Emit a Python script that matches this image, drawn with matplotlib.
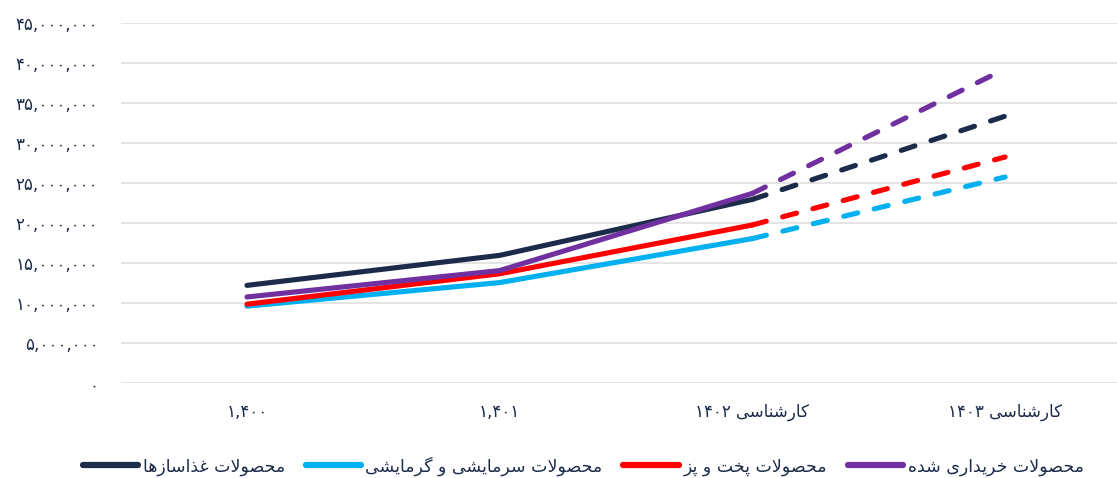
import re
import matplotlib
matplotlib.use('Agg')
import matplotlib.pyplot as plt
from matplotlib.ticker import FuncFormatter

# --- data (values in rials) ---
years = ['۱,۴۰۰', '۱,۴۰۱', 'کارشناسی ۱۴۰۲', 'کارشناسی ۱۴۰۳']
series_names = ['محصولات غذاسازها', 'محصولات سرمایشی و گرمایشی',
                'محصولات پخت و پز', 'محصولات خریداری شده']
food = [12250000, 16000000, 23000000, 33400000]
hvac = [9650000, 12600000, 18100000, 25800000]
cook = [9900000, 13700000, 19800000, 28300000]
bought = [10800000, 14100000, 23750000, 39300000]
colors = ['#1c2b4a', '#00b0f0', '#ff0000', '#7030a0']

# --- tiny persian shaper (no arabic_reshaper available) ---
FORMS = {
    'ا': ('\uFE8D', '\uFE8E', None, None),
    'ت': ('\uFE95', '\uFE96', '\uFE97', '\uFE98'),
    'ح': ('\uFEA1', '\uFEA2', '\uFEA3', '\uFEA4'),
    'خ': ('\uFEA5', '\uFEA6', '\uFEA7', '\uFEA8'),
    'د': ('\uFEA9', '\uFEAA', None, None),
    'ذ': ('\uFEAB', '\uFEAC', None, None),
    'ر': ('\uFEAD', '\uFEAE', None, None),
    'ز': ('\uFEAF', '\uFEB0', None, None),
    'س': ('\uFEB1', '\uFEB2', '\uFEB3', '\uFEB4'),
    'ش': ('\uFEB5', '\uFEB6', '\uFEB7', '\uFEB8'),
    'ص': ('\uFEB9', '\uFEBA', '\uFEBB', '\uFEBC'),
    'غ': ('\uFECD', '\uFECE', '\uFECF', '\uFED0'),
    'ک': ('\uFB8E', '\uFB8F', '\uFB90', '\uFB91'),
    'گ': ('\uFB92', '\uFB93', '\uFB94', '\uFB95'),
    'ل': ('\uFEDD', '\uFEDE', '\uFEDF', '\uFEE0'),
    'م': ('\uFEE1', '\uFEE2', '\uFEE3', '\uFEE4'),
    'ن': ('\uFEE5', '\uFEE6', '\uFEE7', '\uFEE8'),
    'ه': ('\uFEE9', '\uFEEA', '\uFEEB', '\uFEEC'),
    'و': ('\uFEED', '\uFEEE', None, None),
    'ی': ('\uFBFC', '\uFBFD', '\uFBFE', '\uFBFF'),
    'پ': ('\uFB56', '\uFB57', '\uFB58', '\uFB59'),
}


def fa(text):
    out = []
    i = 0
    n = len(text)
    while i < n:
        c = text[i]
        if c not in FORMS:
            out.append(c)
            i += 1
            continue
        prev_j = i > 0 and text[i - 1] in FORMS and FORMS[text[i - 1]][2] is not None
        if c == 'ل' and i + 1 < n and text[i + 1] == 'ا':
            out.append('\uFEFC' if prev_j else '\uFEFB')
            i += 2
            continue
        iso, fin, ini, med = FORMS[c]
        next_j = ini is not None and i + 1 < n and text[i + 1] in FORMS
        if prev_j and next_j:
            out.append(med)
        elif prev_j:
            out.append(fin)
        elif next_j:
            out.append(ini)
        else:
            out.append(iso)
        i += 1
    s = ''.join(out)[::-1]
    # keep digit runs left-to-right
    return re.sub(r'[۰-۹0-9,]+', lambda m: m.group()[::-1], s)


def fa_num(v, pos=None):
    s = '{:,}'.format(int(v))
    return s.translate(str.maketrans('0123456789', '۰۱۲۳۴۵۶۷۸۹'))


plt.rcParams['font.family'] = ['DejaVu Sans']
txt_color = '#1c2b4a'

fig = plt.figure(figsize=(11.17, 4.78), dpi=100)
ax = fig.add_axes([0.108, 0.198, 0.892, 0.753])

x = list(range(len(years)))
all_series = [food, hvac, cook, bought]
for name, vals, col in zip(series_names, all_series, colors):
    ax.plot(x[:3], vals[:3], color=col, lw=3.7, solid_capstyle='round',
            solid_joinstyle='round', label=fa(name))
    ax.plot(x[2:], vals[2:], color=col, lw=3.7, dashes=(2.8, 3.3),
            dash_capstyle='round')

ax.set_xlim(-0.5, 3.443)
ax.set_ylim(0, 45000000)
ax.set_yticks(range(0, 45000001, 5000000))
ax.yaxis.set_major_formatter(FuncFormatter(fa_num))
ax.set_xticks(x)
ax.set_xticklabels([fa(t) for t in years])
ax.grid(axis='y', color='#e4e4e4', lw=1.4)
ax.set_axisbelow(True)
for sp in ax.spines.values():
    sp.set_visible(False)
ax.tick_params(axis='both', length=0, labelsize=12, colors=txt_color)
ax.tick_params(axis='y', pad=16)
ax.tick_params(axis='x', pad=14)

handles, labels = ax.get_legend_handles_labels()
leg = fig.legend(handles, labels, loc='center', bbox_to_anchor=(0.522, 0.025),
                 ncol=4, frameon=False, fontsize=12.5, handlelength=3.2,
                 handletextpad=0.25, columnspacing=1.2)
for t in leg.get_texts():
    t.set_color(txt_color)
for h in leg.get_lines():
    h.set_linewidth(4.5)
    h.set_solid_capstyle('round')

fig.savefig('out.png', dpi=100)
